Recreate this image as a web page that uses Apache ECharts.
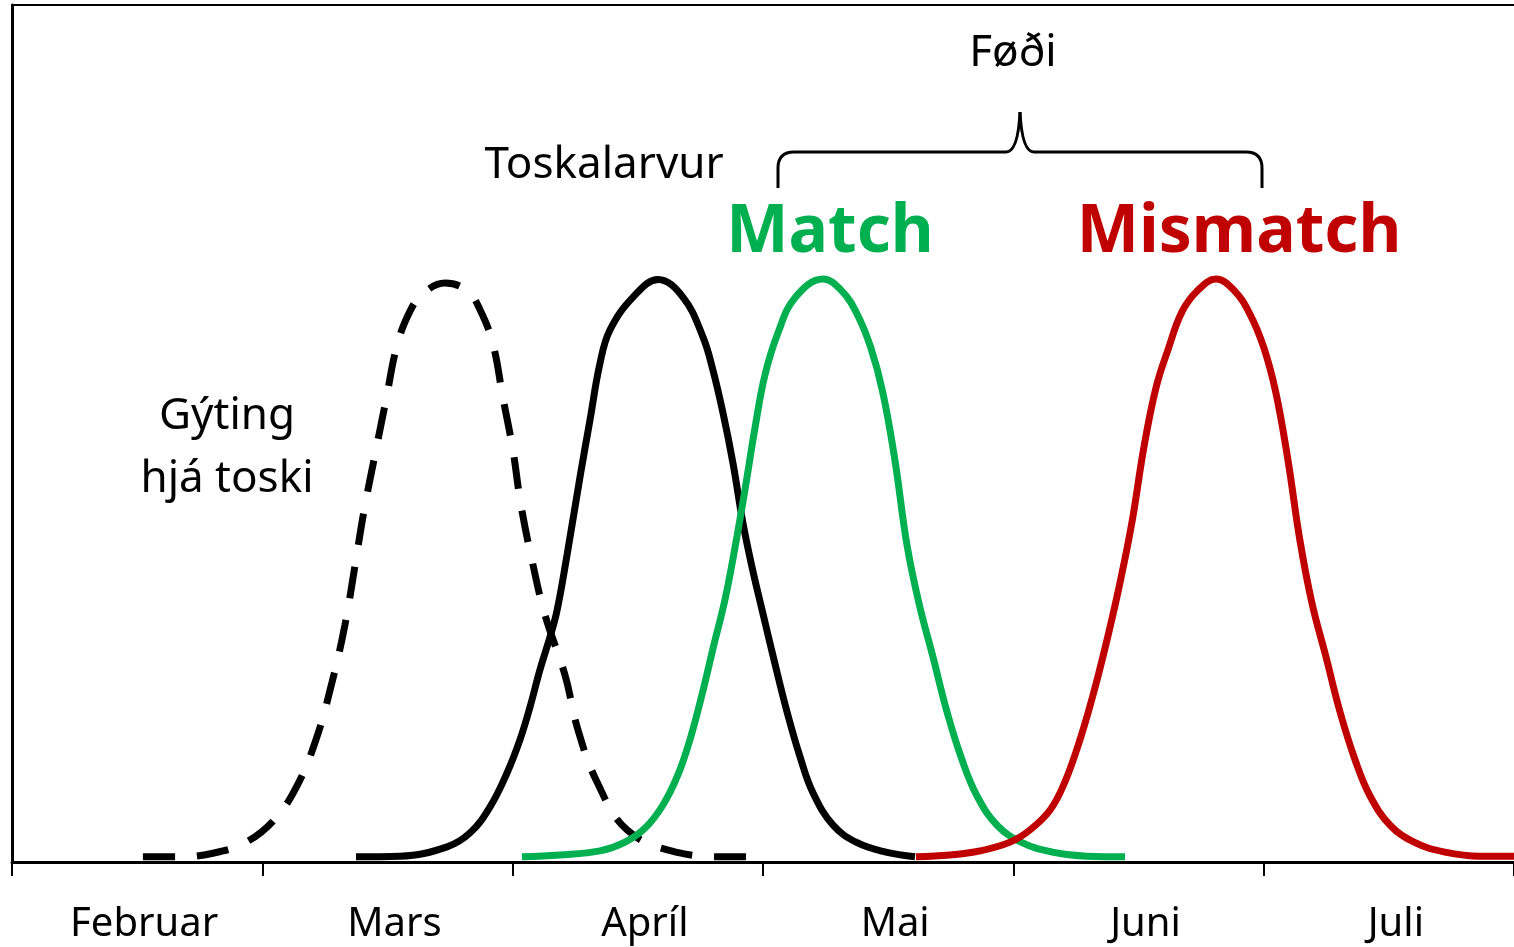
<!DOCTYPE html>
<html>
<head>
<meta charset="utf-8">
<script src="https://cdn.jsdelivr.net/npm/echarts@6/dist/echarts.min.js"></script>
<style>
  html, body { margin: 0; padding: 0; background: #fff; }
  #chart { width: 1514px; height: 947px; }
</style>
</head>
<body>
<div id="chart"></div>
<script>
// x in months from start of Februar (0..6), y relative height (peak ~100)
const months = ['Februar', 'Mars', 'Apríl', 'Mai', 'Juni', 'Juli']

// Gýting hjá toski (dashed)
const spawnX = [0.523, 0.671, 0.803, 0.931, 1.047, 1.138, 1.214, 1.278, 1.330, 1.370, 1.406, 1.450, 1.494, 1.538, 1.590, 1.642, 1.730,
  1.818, 1.870, 1.921, 1.961, 2.001, 2.033, 2.077, 2.129, 2.209, 2.261, 2.337, 2.457, 2.652, 2.860, 2.932]
const spawnY = [0.9, 0.9, 1.5, 3.3, 7.2, 13.0, 20.9, 30.7, 40.6, 50.7, 60.1, 69.7, 79.1, 88.4, 94.3, 97.3, 99.1,
  97.8, 94.5, 88.7, 79.5, 70.5, 61.1, 51.7, 42.3, 32.0, 22.6, 13.7, 5.5, 1.7, 0.9, 0.9]

// Toskalarvur
const larvaeX = [1.374, 1.550, 1.738, 1.830, 1.909, 1.977, 2.029, 2.069, 2.109, 2.149, 2.177, 2.217, 2.269, 2.309, 2.349, 2.389, 2.481, 2.581,
  2.680, 2.760, 2.800, 2.840, 2.880, 2.920, 2.956, 2.996, 3.044, 3.096, 3.148, 3.200, 3.280, 3.376, 3.491, 3.607]
const larvaeY = [0.9, 1.0, 2.6, 5.0, 9.4, 15.2, 20.9, 26.5, 32.9, 38.5, 43.0, 52.5, 65.9, 75.7, 85.4, 91.1, 96.7, 99.7,
  96.7, 89.9, 84.2, 76.9, 68.3, 58.0, 50.5, 43.2, 34.6, 25.7, 18.0, 11.8, 6.3, 3.3, 1.7, 0.9]

// Føði - Match
const matchX = [2.037, 2.189, 2.349, 2.449, 2.529, 2.601, 2.660, 2.708, 2.756, 2.804, 2.848, 2.888, 2.928, 2.968, 3.008, 3.060, 3.128, 3.240,
  3.312, 3.376, 3.431, 3.479, 3.527, 3.575, 3.623, 3.679, 3.735, 3.795, 3.855, 3.935, 4.035, 4.155, 4.294, 4.446]
const matchY = [0.9, 1.2, 1.9, 3.4, 5.8, 9.8, 14.9, 20.9, 28.6, 37.2, 44.9, 53.8, 63.7, 74.3, 83.4, 90.6, 96.6, 99.8,
  97.9, 93.8, 88.0, 80.3, 68.8, 54.3, 44.3, 35.1, 25.7, 17.5, 11.3, 6.3, 3.3, 1.7, 1.0, 0.9]

// Føði - Mismatch
const mismatchX = [3.611, 3.747, 3.867, 3.987, 4.067, 4.147, 4.206, 4.266, 4.326, 4.378, 4.426, 4.474, 4.522, 4.570, 4.618, 4.674, 4.738, 4.810,
  4.881, 4.945, 5.001, 5.049, 5.097, 5.145, 5.193, 5.249, 5.305, 5.365, 5.425, 5.505, 5.605, 5.724, 5.864, 6.000]
const mismatchY = [0.9, 1.2, 1.9, 3.4, 5.5, 8.9, 13.7, 20.9, 29.8, 38.7, 47.8, 58.2, 71.1, 81.2, 87.7, 94.2, 97.9, 99.8,
  97.9, 93.8, 88.0, 80.3, 68.8, 55.0, 44.3, 35.1, 25.7, 17.5, 11.3, 6.3, 3.3, 1.7, 1.0, 1.0]

const zip = (xs, ys) => xs.map((x, i) => [x, ys[i]])

const font = '"Noto Sans", "Open Sans", sans-serif'
const GREEN = '#00b050'
const RED = '#c00000'

const chart = echarts.init(document.getElementById('chart'))

const label = (text, x, y, size, color, weight) => ({
  type: 'text',
  x, y,
  style: {
    text, fill: color || '#000', font: `${weight || 'normal'} ${size}px ${font}`,
    align: 'center', verticalAlign: 'middle'
  }
})

// curly brace over Føði
const braceStyle = { stroke: '#000', lineWidth: 3, fill: null }
const seg = (x1, y1, x2, y2) => ({ type: 'line', shape: { x1, y1, x2, y2 }, style: braceStyle })
const curve = (x1, y1, cpx1, cpy1, x2, y2) => ({ type: 'bezierCurve', shape: { x1, y1, cpx1, cpy1, x2, y2 }, style: braceStyle })

const lineSeries = (name, xs, ys, color, type) => ({
  name, type: 'line', xAxisIndex: 1, smooth: 0.4, symbol: 'none',
  data: zip(xs, ys),
  lineStyle: { color, width: 7, type: type || 'solid', cap: 'butt' }
})

chart.setOption({
  animation: false,
  grid: { left: 12, right: 0, top: 5, bottom: 85 },
  xAxis: [
    {
      type: 'category',
      data: months,
      boundaryGap: true,
      position: 'bottom',
      axisLine: { lineStyle: { color: '#000', width: 3 } },
      axisTick: { show: true, length: 14, lineStyle: { color: '#000', width: 2 } },
      axisLabel: { color: '#000', fontSize: 40, fontFamily: font, margin: 43, padding: [0, 0, 0, 14] }
    },
    {
      type: 'value',
      min: 0,
      max: 6,
      position: 'top',
      axisLine: { show: true, onZero: false, lineStyle: { color: '#000', width: 2 } },
      axisTick: { show: false },
      axisLabel: { show: false },
      splitLine: { show: false }
    }
  ],
  yAxis: {
    type: 'value',
    min: 0,
    max: 146.7,
    axisLine: { show: true, lineStyle: { color: '#000', width: 3 } },
    axisTick: { show: false },
    axisLabel: { show: false },
    splitLine: { show: false }
  },
  series: [
    lineSeries('Gýting hjá toski', spawnX, spawnY, '#000', [32, 22]),
    lineSeries('Toskalarvur', larvaeX, larvaeY, '#000'),
    lineSeries('Match', matchX, matchY, GREEN),
    lineSeries('Mismatch', mismatchX, mismatchY, RED)
  ],
  graphic: [
    label('Føði', 1013, 53, 44),
    label('Toskalarvur', 604, 165, 44),
    label('Match', 830, 233, 66, GREEN, 'bold'),
    label('Mismatch', 1239, 233, 66, RED, 'bold'),
    label('Gýting', 227, 416, 44),
    label('hjá toski', 227, 479, 44),
    seg(778, 188, 778, 168),
    curve(778, 168, 778, 152, 794, 152),
    seg(794, 152, 1006, 152),
    curve(1006, 152, 1018, 152, 1020, 112),
    curve(1020, 112, 1022, 152, 1034, 152),
    seg(1034, 152, 1246, 152),
    curve(1246, 152, 1262, 152, 1262, 168),
    seg(1262, 168, 1262, 188)
  ]
})
</script>
</body>
</html>
